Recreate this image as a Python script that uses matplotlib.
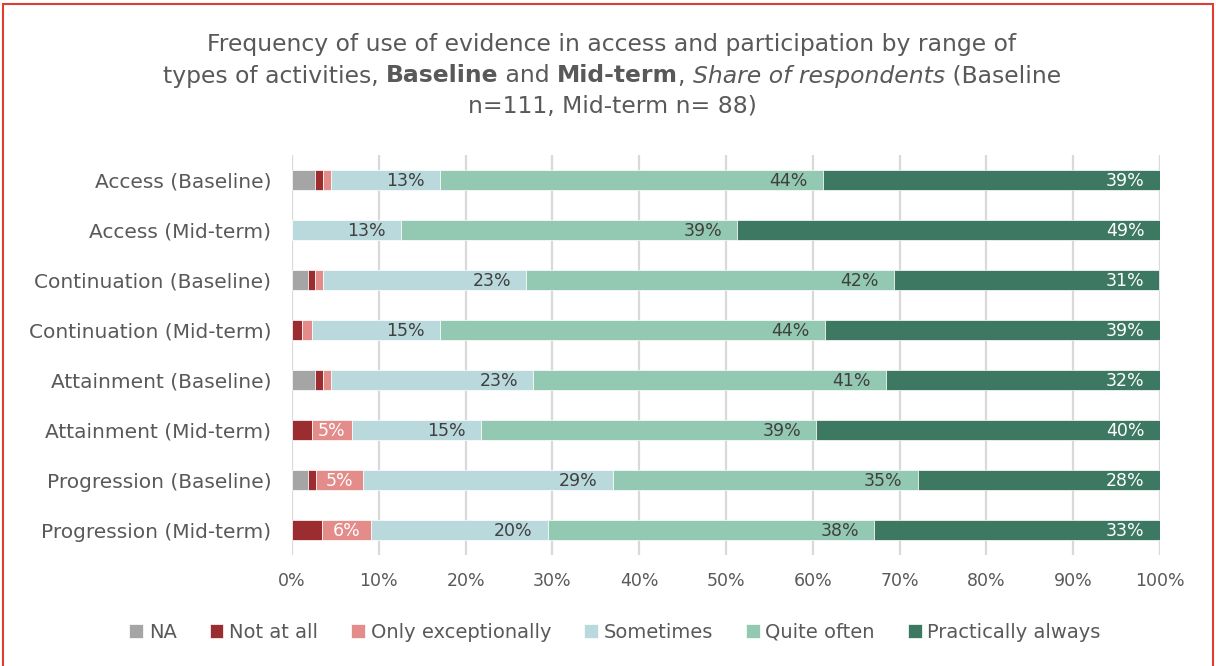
import numpy as np
import matplotlib.pyplot as plt
from matplotlib.patches import Rectangle

plt.rcParams['font.family'] = ['DejaVu Sans']

# categories, top to bottom
categories = ['Access (Baseline)', 'Access (Mid-term)',
              'Continuation (Baseline)', 'Continuation (Mid-term)',
              'Attainment (Baseline)', 'Attainment (Mid-term)',
              'Progression (Baseline)', 'Progression (Mid-term)']

# share of respondents (%) per answer
na = [2.7, 0.0, 1.8, 0.0, 2.7, 0.0, 1.9, 0.0]
not_at_all = [0.9, 0.0, 0.9, 1.1, 0.9, 2.3, 0.9, 3.4]
only_exc = [0.9, 0.0, 0.9, 1.2, 0.9, 4.6, 5.4, 5.7]
sometimes = [12.6, 12.6, 23.4, 14.8, 23.3, 14.9, 28.8, 20.4]
quite_often = [44.1, 38.7, 42.3, 44.3, 40.6, 38.6, 35.1, 37.6]
practically = [38.8, 48.7, 30.6, 38.6, 31.6, 39.6, 27.9, 32.9]

series_names = ['NA', 'Not at all', 'Only exceptionally', 'Sometimes',
                'Quite often', 'Practically always']
series = [na, not_at_all, only_exc, sometimes, quite_often, practically]
colors = ['#A5A5A5', '#9B2D30', '#E38C8A', '#BAD9DC', '#93C9B3', '#3C7862']
label_colors = ['#404040', 'white', 'white', '#404040', '#404040', 'white']

txt = '#595959'

fig = plt.figure(figsize=(12.16, 6.66), dpi=100)
ax = fig.add_axes([292/1216, 1-555/666, 868/1216, 400/666])

y = np.arange(len(categories))
left = np.zeros(len(categories))
for vals, name, col, lcol in zip(series, series_names, colors, label_colors):
    vals = np.array(vals)
    ax.barh(y, vals, left=left, height=0.4, color=col, label=name,
            edgecolor='white', linewidth=0.5, zorder=3)
    for yi, (l, v) in enumerate(zip(left, vals)):
        if v >= 8:
            ax.annotate(f'{v:.0f}%', xy=(l + v, yi), xytext=(-11, -1),
                        textcoords='offset points', ha='right', va='center',
                        color=lcol, fontsize=12.5, zorder=4)
        elif v >= 4:
            # narrow segment: label centred
            ax.annotate(f'{v:.0f}%', xy=(l + v/2, yi), xytext=(0, -1),
                        textcoords='offset points', ha='center', va='center',
                        color=lcol, fontsize=12.5, zorder=4)
    left += vals

ax.set_xlim(0, 100)
ax.set_ylim(len(categories) - 0.5, -0.5)
ax.set_yticks(y)
ax.set_yticklabels(categories, fontsize=14.5, color=txt)
ax.set_xticks(np.arange(0, 101, 10))
ax.set_xticklabels([f'{t}%' for t in range(0, 101, 10)], fontsize=12.5, color=txt)
ax.tick_params(length=0)
ax.tick_params(axis='y', pad=15)
ax.tick_params(axis='x', pad=12)
ax.grid(axis='x', color='#D9D9D9', linewidth=1.6, zorder=0)
for s in ax.spines.values():
    s.set_visible(False)

ax.legend(loc='center', bbox_to_anchor=(615/1216, 1-632/666),
          bbox_transform=fig.transFigure, ncol=6, frameon=False,
          fontsize=14, labelcolor=txt, handlelength=0.7, handleheight=0.7,
          handletextpad=0.3, columnspacing=1.7)

# title with mixed styles
title_lines = [
    [('Frequency of use of evidence in access and participation by range of', 'normal', 'normal')],
    [('types of activities, ', 'normal', 'normal'), ('Baseline', 'bold', 'normal'),
     (' and ', 'normal', 'normal'), ('Mid-term', 'bold', 'normal'),
     (', ', 'normal', 'normal'), ('Share of respondents', 'normal', 'italic'),
     (' (Baseline', 'normal', 'normal')],
    [('n=111, Mid-term n= 88)', 'normal', 'normal')],
]
title_y = [45, 76, 107]
renderer = fig.canvas.get_renderer()
for parts, ty in zip(title_lines, title_y):
    objs = []
    for s, w, st in parts:
        t = fig.text(0, 1 - ty/666, s, fontsize=16.9, color=txt, fontweight=w,
                     fontstyle=st, va='center', ha='left')
        objs.append(t)
    widths = []
    for t in objs:
        # measure with trailing spaces preserved
        s = t.get_text()
        t.set_text(s.replace(' ', '\u00a0'))
        widths.append(t.get_window_extent(renderer).width)
    total = sum(widths)
    x0 = 612 - total/2
    for t, w in zip(objs, widths):
        t.set_x(x0/1216)
        x0 += w

fig.patches.append(Rectangle((3/1216, -0.01), 1210/1216, 1 - 4/666 + 0.01,
                             transform=fig.transFigure, fill=False,
                             edgecolor='#E03C31', linewidth=1.5))

fig.savefig('out.png', dpi=100)
